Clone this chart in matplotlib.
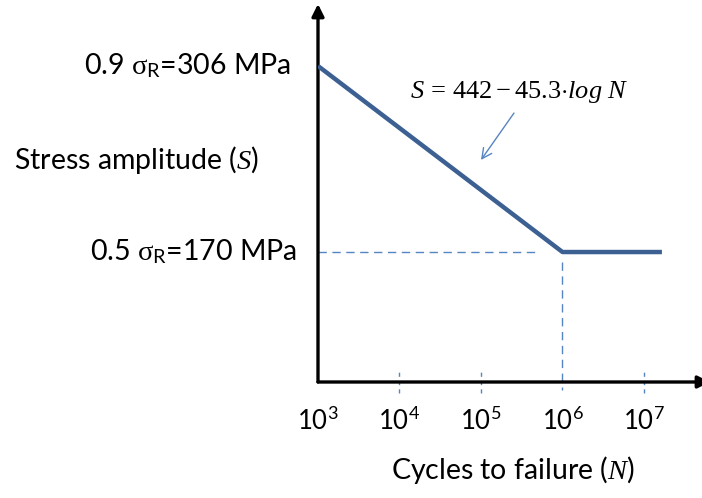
import numpy as np
import matplotlib
matplotlib.use("Agg")
import matplotlib.pyplot as plt
import matplotlib.transforms as mtransforms

plt.rcParams['font.family'] = ['Lato', 'DejaVu Sans']
plt.rcParams['mathtext.fontset'] = 'custom'
plt.rcParams['mathtext.rm'] = 'Liberation Serif'
plt.rcParams['mathtext.it'] = 'Liberation Serif:italic'

# S-N curve (Basquin line down to the fatigue limit, then flat)
cycles = [1e3, 1e6, 10 ** 7.22]
stress = [306, 170, 170]
tick_cycles = [1e3, 1e4, 1e5, 1e6, 1e7]
tick_labels = [r'$\mathregular{10^{%d}}$' % int(np.log10(c)) for c in tick_cycles]
knee_N = 1e6
endurance = 170
upper = 306

line_col = '#3d6093'
guide_col = '#5585c2'

fig = plt.figure(figsize=(7.02, 4.98), dpi=100)
ax = fig.add_axes([318 / 702, 1 - 382 / 498, 392 / 702, 378 / 498])
ax.set_xscale('log')
ax.set_xlim(1e3, 10 ** 7.81)
ax.set_ylim(75, 351.3)
for s in ax.spines.values():
    s.set_visible(False)

# axes with arrow heads
arrow = dict(arrowstyle='-|>', lw=2.4, color='black', mutation_scale=18,
             shrinkA=0, shrinkB=0)
ax.annotate('', xy=(0, 1), xytext=(0, 0), xycoords='axes fraction', arrowprops=arrow)
ax.annotate('', xy=(1, 0), xytext=(0, 0), xycoords='axes fraction', arrowprops=arrow)

# guide lines at the fatigue limit
ax.plot([1e3, 10 ** 5.72], [endurance, endurance], color=guide_col, lw=1.0,
        ls=(0, (6, 4)))
ax.plot([knee_N, knee_N], [162.7, 69], color=guide_col, lw=1.0, ls=(0, (6, 4)),
        clip_on=False)

# small dashed ticks on the N axis
trans = mtransforms.blended_transform_factory(ax.transData, ax.transAxes)
for c in tick_cycles[1:]:
    if c == knee_N:
        continue
    ax.plot([c, c], [-0.03, 0.03], color=guide_col, lw=1.0, ls=(0, (3, 3)),
            transform=trans, clip_on=False)

ax.plot(cycles, stress, color=line_col, lw=3.2, solid_capstyle='butt', zorder=3)

ax.set_xticks(tick_cycles)
ax.set_xticklabels(tick_labels, fontsize=18.5)
ax.minorticks_off()
ax.tick_params(axis='x', length=0, pad=18)
ax.set_yticks([])

# stress level labels
ytrans = mtransforms.blended_transform_factory(ax.transAxes, ax.transData)
ax.text(-0.069, upper, r'0.9 $\mathrm{\sigma}_\mathregular{R}$=306 MPa', transform=ytrans,
        ha='right', va='center', fontsize=20.5)
ax.text(-0.054, endurance, r'0.5 $\mathrm{\sigma}_\mathregular{R}$=170 MPa', transform=ytrans,
        ha='right', va='center', fontsize=20.5)

fig.text(14 / 702, 1 - 160 / 498, r'Stress amplitude ($S$)', ha='left', va='center',
         fontsize=20.5)
fig.text(513 / 702, 1 - 470 / 498, r'Cycles to failure ($N$)', ha='center', va='center',
         fontsize=20.5)

ax.text(10 ** 4.13, 287, r'$S\,=\,442-45.3{\cdot}log\ N$', ha='left', va='center',
        fontsize=19)
ax.annotate('', xy=(10 ** 5.0, 237.3), xytext=(10 ** 5.405, 271.6),
            arrowprops=dict(arrowstyle='->', lw=1.0, color=guide_col,
                            mutation_scale=18, shrinkA=0, shrinkB=0))

fig.savefig('out.png', dpi=100)
